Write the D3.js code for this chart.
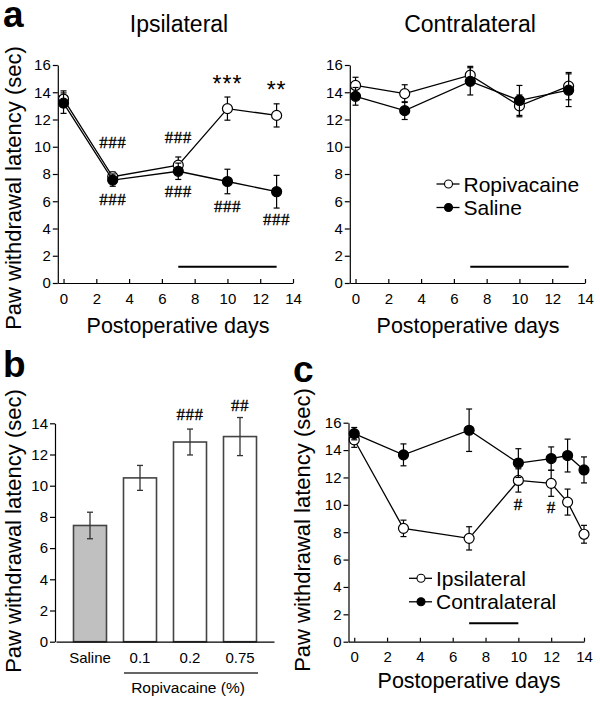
<!DOCTYPE html>
<html>
<head>
<meta charset="utf-8">
<script src="https://cdn.jsdelivr.net/npm/d3@7/dist/d3.min.js"></script>
<style>
  body { margin: 0; background: #fff; }
  svg { font-family: "Liberation Sans", Arial, sans-serif; }
  .axis path, .axis line { stroke: #000; stroke-width: 1.2px; }
  .axis text { font-size: 15px; fill: #000; font-family: "Liberation Sans", Arial, sans-serif; }
</style>
</head>
<body>
<div id="chart"></div>
<script>
// panel a data (days after surgery)
const daysA = [0, 3, 7, 10, 13];
const ipsiRopi = [13.5, 7.8, 8.65, 12.8, 12.3];
const ipsiRopiErr = [0.6, 0.35, 0.6, 0.85, 0.85];
const ipsiSal = [13.2, 7.55, 8.2, 7.45, 6.7];
const ipsiSalErr = [0.75, 0.45, 0.6, 0.9, 1.2];
const contraRopi = [14.5, 13.9, 15.25, 13.0, 14.45];
const contraRopiErr = [0.6, 0.65, 0.65, 0.8, 1.0];
const contraSal = [13.7, 12.65, 14.8, 13.4, 14.15];
const contraSalErr = [0.65, 0.65, 1.0, 1.1, 1.2];
// significance marks in panel a: [day, level, text]
const sigA = [[3, 9.9, "###"], [3, 5.7, "###"], [7, 10.3, "###"], [7, 6.3, "###"],
              [10, 5.2, "###"], [13, 4.25, "###"]];
const starsA = [[10, 14.0, "***"], [13, 13.6, "**"]];

// panel b data (dose)
const doseLabels = ["Saline", "0.1", "0.2", "0.75"];
const doseMeans = [7.45, 10.5, 12.8, 13.15];
const doseErr = [0.85, 0.8, 0.83, 1.22];
const doseSig = ["", "", "###", "##"];
const doseSigLevel = [0, 0, 14.2, 14.8];

// panel c data
const daysC = [0, 3, 7, 10, 12, 13, 14];
const cIpsi = [14.75, 8.28, 7.55, 11.78, 11.57, 10.2, 7.85];
const cIpsiErr = [0.55, 0.6, 0.85, 0.85, 0.95, 0.95, 0.65];
const cContra = [15.2, 13.65, 15.45, 13.05, 13.38, 13.6, 12.55];
const cContraErr = [0.45, 0.8, 1.55, 1.05, 0.85, 1.2, 0.95];
const sigC = [[10, 9.6, "#"], [12, 9.4, "#"]];

const dayTicks = [0, 2, 4, 6, 8, 10, 12, 14];

const svg = d3.select("#chart").append("svg")
    .attr("width", 600)
    .attr("height", 702);

function label(x, y, txt, size, opts = {}) {
  const t = svg.append("text")
      .attr("x", x).attr("y", y)
      .attr("font-size", size)
      .attr("text-anchor", opts.anchor || "middle")
      .attr("font-weight", opts.weight || "normal")
      .text(txt);
  if (opts.rotate) t.attr("transform", "rotate(-90," + x + "," + y + ")");
  if (opts.family) t.attr("font-family", opts.family);
  return t;
}

// hash marks look like a heavy serif "#"
function hashes(x, y, txt) {
  return label(x, y, txt, 17, { family: "Liberation Serif, serif" })
      .attr("letter-spacing", 0.5)
      .attr("stroke", "#000").attr("stroke-width", 0.3);
}

function drawSeries(g, x, y, days, vals, errs, filled) {
  g.append("path")
      .datum(days.map((d, i) => [d, vals[i]]))
      .attr("fill", "none")
      .attr("stroke", "#000")
      .attr("stroke-width", 1.3)
      .attr("d", d3.line().x(d => x(d[0])).y(d => y(d[1])));
  const eb = g.append("g").attr("stroke", "#000").attr("stroke-width", 1.2);
  days.forEach((d, i) => {
    eb.append("line").attr("x1", x(d)).attr("x2", x(d))
      .attr("y1", y(vals[i] - errs[i])).attr("y2", y(vals[i] + errs[i]));
    [vals[i] - errs[i], vals[i] + errs[i]].forEach(v => {
      eb.append("line").attr("x1", x(d) - 3).attr("x2", x(d) + 3)
        .attr("y1", y(v)).attr("y2", y(v));
    });
  });
  g.selectAll(null).data(days).enter().append("circle")
      .attr("cx", d => x(d))
      .attr("cy", (d, i) => y(vals[i]))
      .attr("r", 5)
      .attr("fill", filled ? "#000" : "#fff")
      .attr("stroke", "#000")
      .attr("stroke-width", 1.2);
}

function dayAxes(x, y, yTicks) {
  const y0 = y.range()[0];
  svg.append("g").attr("class", "axis")
      .attr("transform", "translate(0," + y0 + ")")
      .call(d3.axisBottom(x).tickValues(dayTicks).tickSizeInner(-4).tickSizeOuter(0).tickPadding(10));
  svg.append("g").attr("class", "axis")
      .attr("transform", "translate(" + x.range()[0] + ",0)")
      .call(d3.axisLeft(y).tickValues(yTicks).tickSizeInner(5).tickSizeOuter(0).tickPadding(2));
}

function legend(x, y, items) {
  items.forEach((it, i) => {
    const yy = y + i * 23.5;
    svg.append("line").attr("x1", x).attr("x2", x + 23)
      .attr("y1", yy).attr("y2", yy).attr("stroke", "#000").attr("stroke-width", 1.3);
    svg.append("circle").attr("cx", x + 12).attr("cy", yy).attr("r", 4)
      .attr("fill", it.filled ? "#000" : "#fff").attr("stroke", "#000").attr("stroke-width", 1.1);
    label(x + 27, yy + 7.5, it.name, 21, { anchor: "start" });
  });
}

const yTicks16 = d3.range(0, 17, 2);

// ---- panel a, ipsilateral
const xA1 = d3.scaleLinear().domain([-0.35, 14]).range([57.8, 293]);
const yA = d3.scaleLinear().domain([0, 16]).range([283, 65]);
dayAxes(xA1, yA, yTicks16);
const gA1 = svg.append("g");
drawSeries(gA1, xA1, yA, daysA, ipsiRopi, ipsiRopiErr, false);
drawSeries(gA1, xA1, yA, daysA, ipsiSal, ipsiSalErr, true);
svg.append("line").attr("x1", xA1(7)).attr("x2", xA1(13))
    .attr("y1", yA(1.2)).attr("y2", yA(1.2)).attr("stroke", "#000").attr("stroke-width", 2);
sigA.forEach(s => hashes(xA1(s[0]), yA(s[1]), s[2]));
starsA.forEach(s => label(xA1(s[0]), yA(s[1]), s[2], 23).attr("letter-spacing", 1));
label(179, 31.5, "Ipsilateral", 23);
label(178, 333, "Postoperative days", 21.5);
label(21, 188, "Paw withdrawal latency (sec)", 22, { rotate: true });
label(3, 27, "a", 37, { anchor: "start", weight: "bold" });

// ---- panel a, contralateral
const xA2 = d3.scaleLinear().domain([-0.35, 14]).range([349.8, 585]);
dayAxes(xA2, yA, yTicks16);
const gA2 = svg.append("g");
drawSeries(gA2, xA2, yA, daysA, contraRopi, contraRopiErr, false);
drawSeries(gA2, xA2, yA, daysA, contraSal, contraSalErr, true);
svg.append("line").attr("x1", xA2(7)).attr("x2", xA2(13))
    .attr("y1", yA(1.2)).attr("y2", yA(1.2)).attr("stroke", "#000").attr("stroke-width", 2);
legend(436.5, 184, [{ name: "Ropivacaine", filled: false }, { name: "Saline", filled: true }]);
label(470, 32, "Contralateral", 23);
label(468, 333, "Postoperative days", 21.5);

// ---- panel b, bars
const xB = d3.scaleBand().domain(doseLabels).range([56, 274]).paddingInner(0.34).paddingOuter(0.35);
const yB = d3.scaleLinear().domain([0, 14]).range([641.7, 423.3]);
svg.selectAll(".bar").data(doseMeans).enter().append("rect")
    .attr("class", "bar")
    .attr("x", (d, i) => xB(doseLabels[i]))
    .attr("width", xB.bandwidth())
    .attr("y", d => yB(d))
    .attr("height", d => yB(0) - yB(d))
    .attr("fill", (d, i) => i === 0 ? "#c0c0c0" : "#fff")
    .attr("stroke", "#444")
    .attr("stroke-width", 1.6);
const ebB = svg.append("g").attr("stroke", "#333").attr("stroke-width", 1.3);
doseMeans.forEach((m, i) => {
  const cx = xB(doseLabels[i]) + xB.bandwidth() / 2;
  ebB.append("line").attr("x1", cx).attr("x2", cx).attr("y1", yB(m - doseErr[i])).attr("y2", yB(m + doseErr[i]));
  [m - doseErr[i], m + doseErr[i]].forEach(v =>
    ebB.append("line").attr("x1", cx - 3).attr("x2", cx + 3).attr("y1", yB(v)).attr("y2", yB(v)));
  if (doseSig[i]) hashes(cx, yB(doseSigLevel[i]), doseSig[i]);
});
const axB = svg.append("g").attr("class", "axis")
    .attr("transform", "translate(0," + yB(0) + ")")
    .call(d3.axisBottom(xB).tickSize(0).tickPadding(10.5));
axB.selectAll("path").attr("stroke", "#333");
const ayB = svg.append("g").attr("class", "axis")
    .attr("transform", "translate(55,0)")
    .call(d3.axisLeft(yB).tickValues(d3.range(0, 15, 2)).tickSizeInner(5).tickSizeOuter(0).tickPadding(2));
ayB.selectAll("path, line").attr("stroke", "#333");
svg.append("line").attr("x1", 124).attr("x2", 258).attr("y1", 673).attr("y2", 673)
    .attr("stroke", "#333").attr("stroke-width", 1.6);
label(188, 693, "Ropivacaine (%)", 15.5);
label(21, 531, "Paw withdrawal latency (sec)", 22, { rotate: true });
label(3, 377, "b", 37, { anchor: "start", weight: "bold" });

// ---- panel c
const xC = d3.scaleLinear().domain([-0.35, 14]).range([348.5, 584]);
const yC = d3.scaleLinear().domain([0, 16]).range([641.7, 422.7]);
dayAxes(xC, yC, yTicks16);
const gC = svg.append("g");
drawSeries(gC, xC, yC, daysC, cIpsi, cIpsiErr, false);
drawSeries(gC, xC, yC, daysC, cContra, cContraErr, true);
svg.append("line").attr("x1", xC(7)).attr("x2", xC(10))
    .attr("y1", yC(1.35)).attr("y2", yC(1.35)).attr("stroke", "#000").attr("stroke-width", 2);
sigC.forEach(s => hashes(xC(s[0]), yC(s[1]), s[2]));
legend(409, 578.3, [{ name: "Ipsilateral", filled: false }, { name: "Contralateral", filled: true }]);
label(469, 688, "Postoperative days", 21.5);
label(310, 530, "Paw withdrawal latency (sec)", 22, { rotate: true });
label(293, 382, "c", 37, { anchor: "start", weight: "bold" });
</script>
</body>
</html>
